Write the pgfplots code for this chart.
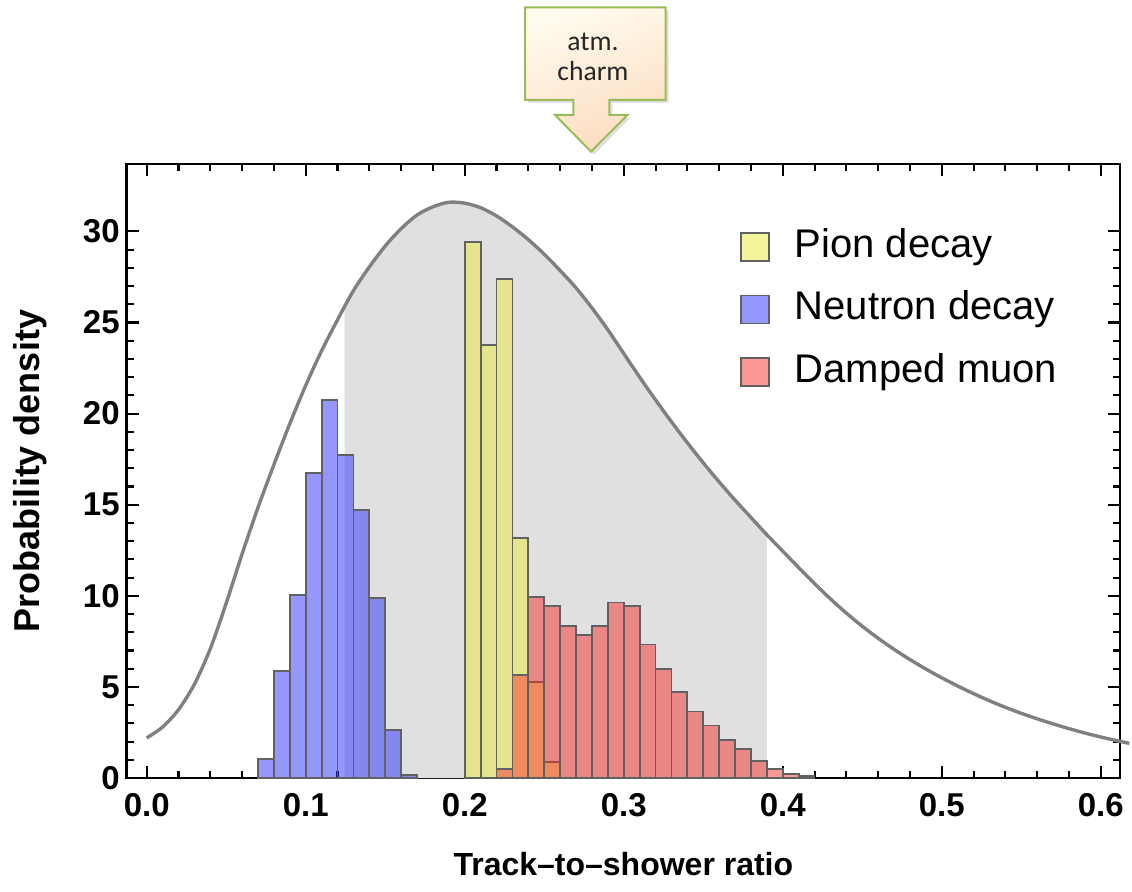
\documentclass[border=0pt]{standalone}
\usepackage{fontspec}
\setmainfont{Liberation Sans}
\newfontfamily\calibri{Carlito}
\usepackage{pgfplots}
\pgfplotsset{compat=1.18}
\definecolor{calloutborder}{RGB}{155,187,89}
\definecolor{calloutlight}{RGB}{255,251,238}
\definecolor{calloutdark}{RGB}{252,220,192}
\definecolor{curvegray}{RGB}{128,128,128}
\definecolor{shadegray}{RGB}{224,224,224}
\definecolor{pionc}{RGB}{235,235,60}
\definecolor{neutc}{RGB}{45,45,255}
\definecolor{muonc}{RGB}{245,50,50}
\begin{document}
\begin{tikzpicture}
\useasboundingbox (0pt,0pt) rectangle (566pt,445.5pt);
% callout arrow
\path[fill=black, fill opacity=0.12]
  (264pt,440.3pt) -- (334.3pt,440.3pt) -- (334.3pt,394pt) -- (306.2pt,394pt) -- (306.2pt,386.5pt) -- (315.2pt,386.5pt)
  -- (297pt,368.2pt) -- (279pt,386.5pt) -- (288.2pt,386.5pt) -- (288.2pt,394pt) -- (264pt,394pt) -- cycle;
\path[draw=calloutborder, line width=1pt, top color=calloutlight, bottom color=calloutdark, shading angle=20]
  (262.5pt,441.8pt) -- (332.8pt,441.8pt) -- (332.8pt,395.5pt) -- (304.7pt,395.5pt) -- (304.7pt,388pt) -- (313.7pt,388pt)
  -- (295.5pt,369.7pt) -- (277.5pt,388pt) -- (286.7pt,388pt) -- (286.7pt,395.5pt) -- (262.5pt,395.5pt) -- cycle;
\node[align=center, font=\calibri\fontsize{13.8}{15}\selectfont, text=black!85] at (296.5pt,417pt) {atm.\\charm};
\begin{axis}[
  at={(63.35pt,56.5pt)}, anchor=south west,
  scale only axis, width=496.65pt, height=307pt,
  xmin=-0.0126, xmax=0.6121, ymin=0, ymax=33.7,
  clip=false,
  axis line style={line width=1.3pt, black},
  tick style={line width=1.05pt, black},
  major tick length=6pt, minor tick length=3.5pt,
  tick align=inside,
  xtick pos=both, ytick pos=both,
  xticklabel pos=lower, yticklabel pos=left,
  xtick={0,0.1,0.2,0.3,0.4,0.5,0.6},
  xticklabels={0.0,0.1,0.2,0.3,0.4,0.5,0.6},
  minor x tick num=4,
  ytick={0,5,10,15,20,25,30},
  yticklabels={0,5,10,15,20,25,30},
  minor y tick num=4,
  ticklabel style={font=\fontsize{16.5}{16.5}\selectfont\bfseries},
  xticklabel style={yshift=-4pt},
  xlabel={Track–to–shower ratio},
  ylabel={Probability density},
  every axis x label/.style={at={(axis description cs:0.5,-0.14)}, anchor=center,
     font=\fontsize{16}{16}\selectfont\bfseries},
  every axis y label/.style={at={(axis description cs:-0.0975,0.5)}, anchor=center, rotate=90,
     font=\fontsize{18}{18}\selectfont\bfseries},
  legend image code/.code={\draw[#1] (0pt,-7pt) rectangle (14pt,7pt);},
  legend style={at={(axis description cs:0.6179,0.894)}, anchor=north west,
     draw=none, fill=none, inner sep=0pt, outer sep=0pt, row sep=13.25pt,
     font=\fontsize{20}{20}\selectfont,
     nodes={inner xsep=12.25pt, inner ysep=0pt, text height=14pt, text depth=4pt}},
  legend cell align=left,
]
% shaded region under the curve
\addplot[fill=shadegray, draw=none, forget plot] coordinates {
 (0.1245,0) (0.1245,25.80) (0.13,26.75) (0.14,28.05) (0.15,29.20) (0.16,30.15) (0.17,30.90)
 (0.18,31.35) (0.19,31.60) (0.20,31.55) (0.21,31.30) (0.22,30.85) (0.23,30.25) (0.24,29.55)
 (0.25,28.75) (0.26,27.85) (0.27,26.90) (0.28,25.80) (0.29,24.60) (0.30,23.30) (0.31,22.00)
 (0.32,20.75) (0.33,19.55) (0.34,18.40) (0.35,17.30) (0.36,16.25) (0.37,15.25) (0.38,14.30)
 (0.39,13.35) (0.39,0)} -- cycle;
% Pion decay
\addplot[ybar interval, fill=pionc, fill opacity=0.5, draw=black!62, line width=0.9pt] table {
x y
0.20 29.42
0.21 23.75
0.22 27.38
0.23 13.18
0.24 5.29
0.25 0.89
0.26 0
};
\addlegendentry{Pion decay}
% Neutron decay
\addplot[ybar interval, fill=neutc, fill opacity=0.5, draw=black!62, line width=0.9pt] table {
x y
0.07 1.05
0.08 5.89
0.09 10.05
0.10 16.75
0.11 20.75
0.12 17.75
0.13 14.72
0.14 9.87
0.15 2.65
0.16 0.15
0.17 0
};
\addlegendentry{Neutron decay}
% Damped muon
\addplot[ybar interval, fill=muonc, fill opacity=0.5, draw=black!62, line width=0.9pt] table {
x y
0.22 0.49
0.23 5.65
0.24 9.94
0.25 9.43
0.26 8.34
0.27 7.84
0.28 8.34
0.29 9.63
0.30 9.43
0.31 7.33
0.32 5.98
0.33 4.74
0.34 3.65
0.35 2.88
0.36 2.10
0.37 1.59
0.38 0.95
0.39 0.49
0.40 0.22
0.41 0.10
0.42 0
};
\addlegendentry{Damped muon}
% atm. charm curve
\addplot[curvegray, line width=1.7pt, smooth, tension=0.5, forget plot] table {
x y
0.000 2.20
0.010 2.80
0.020 3.75
0.030 5.15
0.040 7.10
0.050 9.60
0.060 12.30
0.070 14.85
0.080 17.20
0.090 19.45
0.100 21.55
0.110 23.45
0.120 25.15
0.130 26.75
0.140 28.05
0.150 29.20
0.160 30.15
0.170 30.90
0.180 31.35
0.190 31.60
0.200 31.55
0.210 31.30
0.220 30.85
0.230 30.25
0.240 29.55
0.250 28.75
0.260 27.85
0.270 26.90
0.280 25.80
0.290 24.60
0.300 23.30
0.310 22.00
0.320 20.75
0.330 19.55
0.340 18.40
0.350 17.30
0.360 16.25
0.370 15.25
0.380 14.30
0.390 13.35
0.400 12.45
0.410 11.55
0.420 10.67
0.430 9.83
0.440 9.05
0.450 8.33
0.460 7.67
0.470 7.06
0.480 6.50
0.490 5.98
0.500 5.50
0.510 5.05
0.520 4.63
0.530 4.24
0.540 3.88
0.550 3.55
0.560 3.25
0.570 2.97
0.580 2.71
0.590 2.47
0.600 2.25
0.610 2.05
0.618 1.90
};
\end{axis}
\end{tikzpicture}
\end{document}
